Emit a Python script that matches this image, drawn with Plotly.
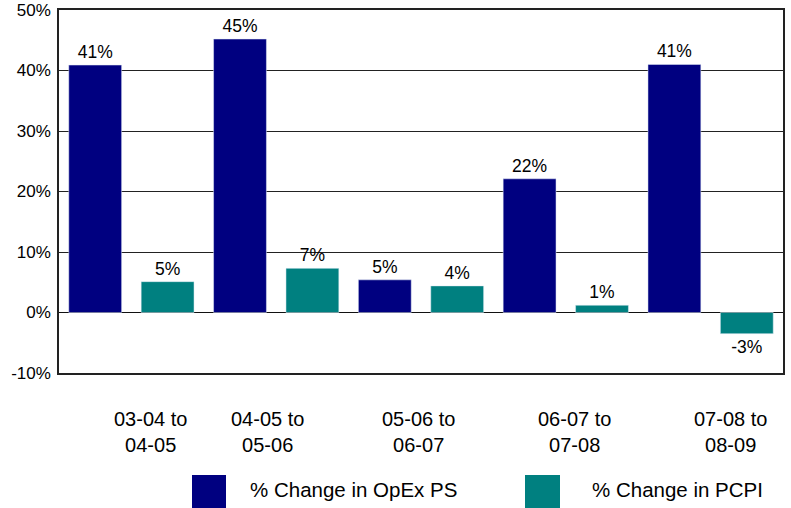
import plotly.graph_objects as go

categories = ["03-04 to<br>04-05", "04-05 to<br>05-06", "05-06 to<br>06-07", "06-07 to<br>07-08", "07-08 to<br>08-09"]
opex_ps = [40.9, 45.2, 5.4, 22.1, 41.0]
pcpi = [5.1, 7.3, 4.4, 1.2, -3.5]
opex_labels = ["41%", "45%", "5%", "22%", "41%"]
pcpi_labels = ["5%", "7%", "4%", "1%", "-3%"]
series_names = ["% Change in OpEx PS", "% Change in PCPI"]
colors = ["#000080", "#008080"]
y_ticks = [-10, 0, 10, 20, 30, 40, 50]
y_tick_labels = ["-10%", "0%", "10%", "20%", "30%", "40%", "50%"]

# horizontal pixel nudges of the category labels (as in the original layout)
label_nudges = [19, -9, -3, 9, 20]

font = "Liberation Sans, Arial, sans-serif"

fig = go.Figure()
fig.add_trace(go.Bar(x=categories, y=opex_ps, name=series_names[0], marker_color=colors[0],
                     text=opex_labels, textposition="outside", cliponaxis=False,
                     textfont=dict(size=17.5, color="black", family=font)))
fig.add_trace(go.Bar(x=categories, y=pcpi, name=series_names[1], marker_color=colors[1],
                     text=pcpi_labels, textposition="outside", cliponaxis=False,
                     textfont=dict(size=17.5, color="black", family=font)))

fig.update_layout(
    width=791, height=508,
    margin=dict(l=59, r=8, t=10, b=135, autoexpand=False),
    paper_bgcolor="white", plot_bgcolor="white",
    barmode="group", bargap=0.0, bargroupgap=0.27,
    showlegend=False,
    font=dict(family=font, color="black"),
    uniformtext=dict(minsize=17, mode="show"),
)
fig.update_xaxes(showline=True, linecolor="#222", linewidth=1.5, mirror=True,
                 showticklabels=False, ticks="", showgrid=False, automargin=False)
fig.update_yaxes(range=[-10, 50], tickvals=y_ticks, ticktext=y_tick_labels,
                 showline=True, linecolor="#222", linewidth=1.5, mirror=True,
                 gridcolor="#222", gridwidth=1, zeroline=True, zerolinecolor="#111",
                 zerolinewidth=1.2, tickfont=dict(size=17), ticks="", ticklabelstandoff=3,
                 automargin=False)

H = 508 - 10 - 135
W = 791 - 59 - 8
def px_x(x):
    return (x - 59) / W
def px_y(y):
    return (508 - 135 - y) / H

# category labels
for cat, dx in zip(categories, label_nudges):
    fig.add_annotation(xref="x", yref="paper", x=cat, y=px_y(432), xshift=dx,
                       text=cat, showarrow=False, xanchor="center", yanchor="middle",
                       font=dict(size=20, color="black", family=font))

# Legend drawn as boxes + text
legend_items = [(192, 226, 248), (525, 560, 590)]
for (x0, x1, tx), name, c in zip(legend_items, series_names, colors):
    fig.add_shape(type="rect", xref="paper", yref="paper",
                  x0=px_x(x0), x1=px_x(x1), y0=px_y(510), y1=px_y(475),
                  fillcolor=c, line=dict(width=0))
    fig.add_annotation(xref="paper", yref="paper", x=px_x(tx), y=px_y(489),
                       text=name, showarrow=False, xanchor="left", yanchor="middle",
                       font=dict(size=20.5, color="black", family=font))

fig.write_html("out.html", config={"displayModeBar": False},
               post_script="document.body.style.margin='0';document.body.style.overflow='hidden';")
